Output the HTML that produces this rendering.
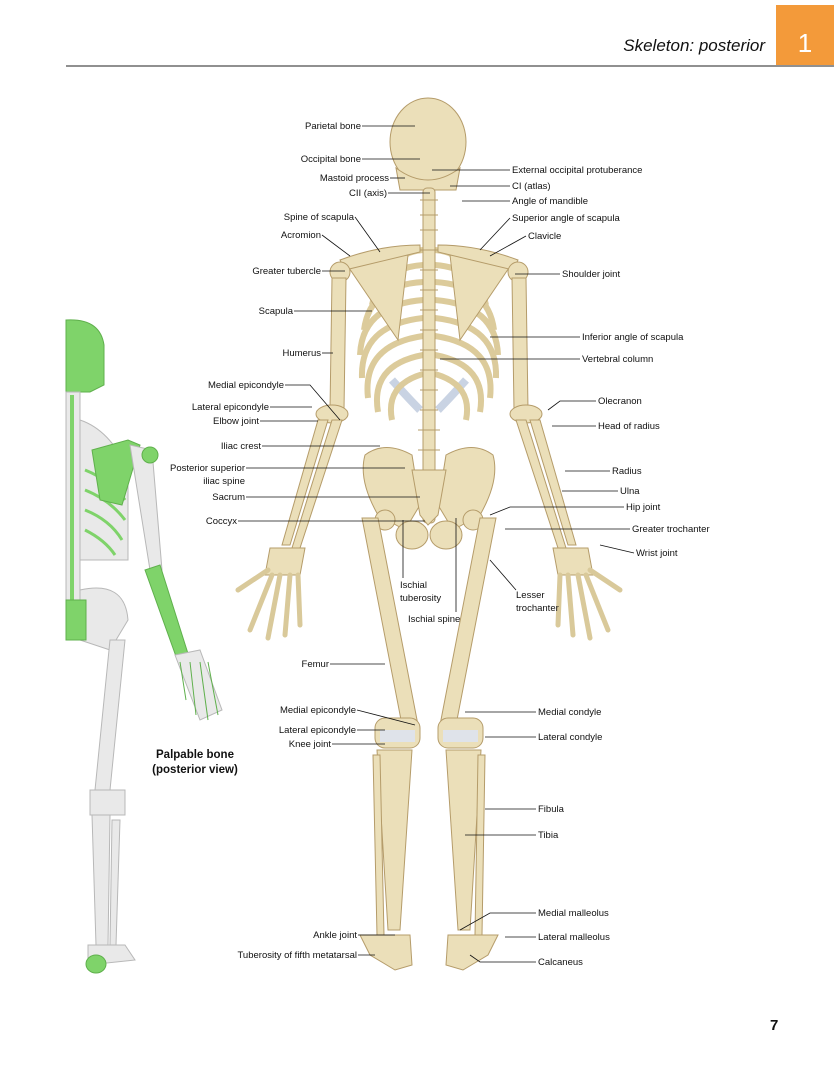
<!DOCTYPE html>
<html><head><meta charset="utf-8"><style>
html,body{margin:0;padding:0;background:#fff}
svg{display:block}
text{font-family:"Liberation Sans",sans-serif;font-size:9.5px;fill:#111}
.r{text-anchor:end}
.b{fill:#ebdfb9;stroke:#b59c6a;stroke-width:1}
.g{fill:#e9e9e9;stroke:#b8b8b8;stroke-width:1}
.gr{fill:#7fd36a;stroke:#5fb04c;stroke-width:1}
.l{stroke:#111;stroke-width:0.8;fill:none}
</style></head><body>
<svg width="834" height="1080" viewBox="0 0 834 1080" xmlns="http://www.w3.org/2000/svg">
<rect x="776" y="5" width="58" height="60" fill="#f39a3a"/>
<text x="805" y="52" style="font-size:26px;fill:#fff;text-anchor:middle">1</text>
<text x="765" y="51" class="r" style="font-size:17px;font-style:italic">Skeleton: posterior</text>
<line x1="66" y1="66" x2="834" y2="66" stroke="#222" stroke-width="1"/>
<text x="770" y="1030" style="font-size:15px;font-weight:bold">7</text>

<!-- green partial skeleton -->
<g>
<path class="gr" d="M66 320 Q100 318 104 345 L104 385 L90 392 L66 392 Z"/>
<rect x="66" y="392" width="14" height="230" class="g"/>
<line x1="72" y1="395" x2="72" y2="620" stroke="#7fd36a" stroke-width="4"/>
<path class="g" d="M80 420 Q110 430 128 470 L128 560 L80 560 Z"/>
<g fill="none" stroke="#7fd36a" stroke-width="3">
<path d="M85 470 Q110 480 125 500"/><path d="M85 490 Q110 500 125 520"/><path d="M85 510 Q110 520 122 540"/><path d="M85 530 Q105 540 115 555"/>
</g>
<path class="gr" d="M92 450 L128 440 L140 445 L122 505 L100 500 Z"/>
<path class="g" d="M130 445 L152 450 L162 570 L150 570 Z"/>
<circle cx="150" cy="455" r="8" class="gr"/>
<path class="gr" d="M145 570 L160 565 L190 660 L178 662 Z"/>
<path class="g" d="M175 655 L200 650 L222 710 L200 720 Z"/>
<path class="gr" d="M180 662 L186 700 M190 662 L196 715 M200 662 L208 720 M208 662 L218 715" stroke-width="4"/>
<path class="g" d="M80 590 Q125 580 128 620 L110 650 L80 640 Z"/>
<rect x="66" y="600" width="20" height="40" class="gr"/>
<path class="g" d="M110 640 L125 640 L110 790 L95 790 Z"/>
<rect x="90" y="790" width="35" height="25" class="g"/>
<path class="g" d="M92 815 L110 815 L108 945 L96 945 Z"/>
<path class="g" d="M112 820 L120 820 L116 945 L110 945 Z"/>
<path class="g" d="M88 945 L125 945 L135 960 L88 965 Z"/>
<ellipse cx="96" cy="964" rx="10" ry="9" class="gr"/>
</g>
<text x="195" y="758" style="font-size:11.5px;font-weight:bold;text-anchor:middle">Palpable bone</text>
<text x="195" y="773" style="font-size:11.5px;font-weight:bold;text-anchor:middle">(posterior view)</text>

<!-- main skeleton -->
<g>
<ellipse cx="428" cy="142" rx="38" ry="44" class="b"/>
<path class="b" d="M396 168 Q428 192 460 168 L456 190 L400 190 Z"/>
<!-- cartilage -->
<path d="M392 380 Q410 400 420 410 M466 380 Q448 400 438 410" stroke="#c9d3e3" stroke-width="8" fill="none"/>
<!-- ribs -->
<g fill="none" stroke="#dccb9b" stroke-width="6">
<path d="M423 250 Q392 252 385 285"/><path d="M435 250 Q466 252 473 285"/>
<path d="M423 265 Q380 268 372 305"/><path d="M435 265 Q478 268 486 305"/>
<path d="M423 282 Q370 285 364 330"/><path d="M435 282 Q488 285 494 330"/>
<path d="M423 300 Q362 305 360 355"/><path d="M435 300 Q496 305 498 355"/>
<path d="M423 318 Q360 325 362 378"/><path d="M435 318 Q498 325 496 378"/>
<path d="M423 336 Q362 345 368 398"/><path d="M435 336 Q496 345 490 398"/>
<path d="M423 355 Q370 365 378 412"/><path d="M435 355 Q488 365 480 412"/>
<path d="M423 374 Q385 385 392 420"/><path d="M435 374 Q473 385 466 420"/>
</g>
<rect x="423" y="188" width="12" height="335" rx="4" class="b"/>
<g stroke="#b59c6a" stroke-width="1">
<line x1="420" y1="200" x2="438" y2="200"/><line x1="420" y1="215" x2="438" y2="215"/><line x1="420" y1="230" x2="438" y2="230"/>
<line x1="420" y1="250" x2="438" y2="250"/><line x1="420" y1="270" x2="438" y2="270"/><line x1="420" y1="290" x2="438" y2="290"/>
<line x1="420" y1="310" x2="438" y2="310"/><line x1="420" y1="330" x2="438" y2="330"/><line x1="420" y1="350" x2="438" y2="350"/>
<line x1="420" y1="370" x2="438" y2="370"/><line x1="420" y1="390" x2="438" y2="390"/><line x1="420" y1="410" x2="438" y2="410"/>
<line x1="418" y1="430" x2="440" y2="430"/><line x1="418" y1="450" x2="440" y2="450"/><line x1="418" y1="470" x2="440" y2="470"/>
</g>
<!-- scapulae -->
<path class="b" d="M345 262 L408 255 L398 340 Z"/>
<path class="b" d="M513 262 L450 255 L460 340 Z"/>
<path class="b" d="M340 260 Q380 245 420 245 L420 252 L345 270 Z"/>
<path class="b" d="M518 260 Q478 245 438 245 L438 252 L513 270 Z"/>
<!-- arms -->
<circle cx="340" cy="272" r="10" class="b"/><circle cx="518" cy="272" r="10" class="b"/>
<path class="b" d="M332 278 L346 278 L344 410 L330 410 Z"/>
<path class="b" d="M512 278 L526 278 L528 410 L514 410 Z"/>
<ellipse cx="332" cy="414" rx="16" ry="9" class="b"/><ellipse cx="526" cy="414" rx="16" ry="9" class="b"/>
<path class="b" d="M318 420 L328 420 L290 545 L282 545 Z"/><path class="b" d="M332 420 L342 420 L300 548 L292 548 Z"/>
<path class="b" d="M540 420 L530 420 L568 545 L576 545 Z"/><path class="b" d="M526 420 L516 420 L558 548 L566 548 Z"/>
<!-- hands -->
<g class="b"><path d="M270 548 L305 548 L300 575 L265 575 Z"/><path d="M553 548 L588 548 L593 575 L558 575 Z"/></g>
<g stroke="#d9c99a" stroke-width="5" stroke-linecap="round" fill="none">
<path d="M268 570 L238 590"/><path d="M272 575 L250 630"/><path d="M280 575 L268 638"/><path d="M290 575 L285 635"/><path d="M298 575 L300 625"/>
<path d="M590 570 L620 590"/><path d="M586 575 L608 630"/><path d="M578 575 L590 638"/><path d="M568 575 L573 635"/><path d="M560 575 L558 625"/>
</g>
<!-- pelvis -->
<path class="b" d="M365 455 Q385 440 412 455 L420 505 L405 530 L378 515 Q358 480 365 455 Z"/>
<path class="b" d="M493 455 Q473 440 446 455 L438 505 L453 530 L480 515 Q500 480 493 455 Z"/>
<path class="b" d="M412 470 L446 470 L438 515 L428 525 L420 515 Z"/>
<ellipse cx="412" cy="535" rx="16" ry="14" class="b"/><ellipse cx="446" cy="535" rx="16" ry="14" class="b"/>
<!-- femurs -->
<circle cx="385" cy="520" r="10" class="b"/><circle cx="473" cy="520" r="10" class="b"/>
<path class="b" d="M362 518 L378 518 L418 725 L402 725 Z"/>
<path class="b" d="M496 518 L480 518 L440 725 L456 725 Z"/>
<rect x="375" y="718" width="45" height="30" rx="10" class="b"/>
<rect x="438" y="718" width="45" height="30" rx="10" class="b"/>
<rect x="380" y="730" width="35" height="12" fill="#dfe3ea"/><rect x="443" y="730" width="35" height="12" fill="#dfe3ea"/>
<!-- tibia/fibula -->
<path class="b" d="M377 750 L412 750 L400 930 L388 930 Z"/>
<path class="b" d="M373 755 L380 755 L384 935 L377 935 Z"/>
<path class="b" d="M446 750 L481 750 L470 930 L458 930 Z"/>
<path class="b" d="M478 755 L485 755 L482 935 L475 935 Z"/>
<!-- feet -->
<path class="b" d="M360 935 L410 935 L412 965 L395 970 L370 955 Z"/>
<path class="b" d="M448 935 L498 935 L488 955 L463 970 L446 965 Z"/>
</g>

<!-- leader lines -->
<g class="l">
<path d="M362 126H415"/><path d="M362 159H420"/><path d="M390 178H405"/><path d="M388 193H430"/>
<path d="M355 217L380 252"/><path d="M322 235L350 256"/><path d="M322 271H345"/><path d="M294 311H372"/>
<path d="M322 353H333"/><path d="M285 385H310L340 420"/><path d="M270 407H312"/><path d="M260 421H318"/>
<path d="M262 446H380"/><path d="M246 468H405"/><path d="M246 497H420"/><path d="M238 521H425"/>
<path d="M403 578V520"/><path d="M456 612V518"/><path d="M516 590L490 560"/>
<path d="M330 664H385"/><path d="M357 710L415 725"/><path d="M357 730H385"/><path d="M332 744H385"/>
<path d="M358 935H395"/><path d="M358 955H375"/>
<path d="M432 170H510"/><path d="M450 186H510"/><path d="M462 201H510"/><path d="M480 250L510 218"/>
<path d="M490 256L526 236"/><path d="M515 274H560"/><path d="M490 337H580"/><path d="M440 359H580"/>
<path d="M548 410L560 401H596"/><path d="M552 426H596"/><path d="M565 471H610"/><path d="M562 491H618"/>
<path d="M490 515L510 507H624"/><path d="M505 529H630"/><path d="M600 545L634 553"/>
<path d="M465 712H536"/><path d="M485 737H536"/><path d="M485 809H536"/><path d="M465 835H536"/>
<path d="M460 930L490 913H536"/><path d="M505 937H536"/><path d="M470 955L480 962H536"/>
</g>

<!-- labels -->
<g>
<text x="361" y="129" class="r">Parietal bone</text>
<text x="361" y="162" class="r">Occipital bone</text>
<text x="389" y="181" class="r">Mastoid process</text>
<text x="387" y="196" class="r">CII (axis)</text>
<text x="354" y="220" class="r">Spine of scapula</text>
<text x="321" y="238" class="r">Acromion</text>
<text x="321" y="274" class="r">Greater tubercle</text>
<text x="293" y="314" class="r">Scapula</text>
<text x="321" y="356" class="r">Humerus</text>
<text x="284" y="388" class="r">Medial epicondyle</text>
<text x="269" y="410" class="r">Lateral epicondyle</text>
<text x="259" y="424" class="r">Elbow joint</text>
<text x="261" y="449" class="r">Iliac crest</text>
<text x="245" y="471" class="r">Posterior superior</text>
<text x="245" y="484" class="r">iliac spine</text>
<text x="245" y="500" class="r">Sacrum</text>
<text x="237" y="524" class="r">Coccyx</text>
<text x="400" y="588">Ischial</text>
<text x="400" y="601">tuberosity</text>
<text x="408" y="622">Ischial spine</text>
<text x="516" y="598">Lesser</text>
<text x="516" y="611">trochanter</text>
<text x="329" y="667" class="r">Femur</text>
<text x="356" y="713" class="r">Medial epicondyle</text>
<text x="356" y="733" class="r">Lateral epicondyle</text>
<text x="331" y="747" class="r">Knee joint</text>
<text x="357" y="938" class="r">Ankle joint</text>
<text x="357" y="958" class="r">Tuberosity of fifth metatarsal</text>
<text x="512" y="173">External occipital protuberance</text>
<text x="512" y="189">CI (atlas)</text>
<text x="512" y="204">Angle of mandible</text>
<text x="512" y="221">Superior angle of scapula</text>
<text x="528" y="239">Clavicle</text>
<text x="562" y="277">Shoulder joint</text>
<text x="582" y="340">Inferior angle of scapula</text>
<text x="582" y="362">Vertebral column</text>
<text x="598" y="404">Olecranon</text>
<text x="598" y="429">Head of radius</text>
<text x="612" y="474">Radius</text>
<text x="620" y="494">Ulna</text>
<text x="626" y="510">Hip joint</text>
<text x="632" y="532">Greater trochanter</text>
<text x="636" y="556">Wrist joint</text>
<text x="538" y="715">Medial condyle</text>
<text x="538" y="740">Lateral condyle</text>
<text x="538" y="812">Fibula</text>
<text x="538" y="838">Tibia</text>
<text x="538" y="916">Medial malleolus</text>
<text x="538" y="940">Lateral malleolus</text>
<text x="538" y="965">Calcaneus</text>
</g>
</svg>
</body></html>
